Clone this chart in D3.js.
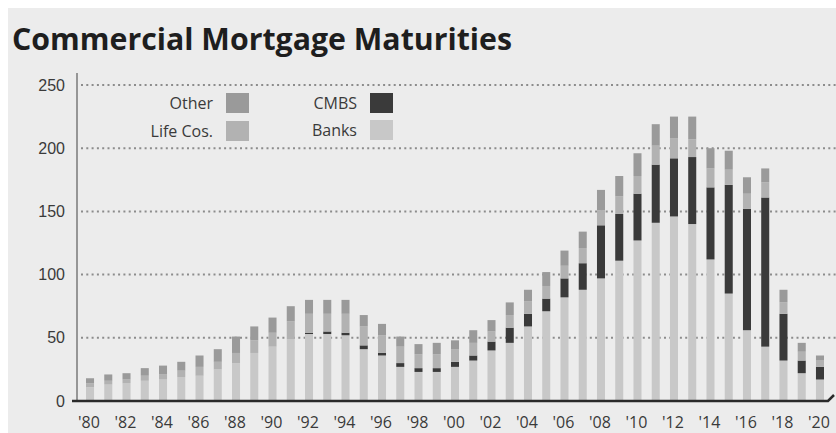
<!DOCTYPE html>
<html>
<head>
<meta charset="utf-8">
<script src="https://cdn.jsdelivr.net/npm/d3@7"></script>
<style>
  body { margin: 0; background: #fff; }
  svg { display: block; font-family: 'Open Sans', sans-serif; }
  .tick-label { fill: #3a3a3a; font-size: 16px; }
</style>
</head>
<body>
<svg id="chart"></svg>
<script>
/* global d3, document */

const years = d3.range(1980, 2021);
const banks = [11, 13, 14, 16, 17, 19, 20, 25, 30, 38, 43, 49, 53, 53, 52, 41, 36, 27, 23, 23, 27,
  32, 40, 46, 59, 71, 82, 88, 97, 111, 127, 141, 146, 140, 112, 85, 56, 43, 32, 22, 17];
const cmbs = [0, 0, 0, 0, 0, 0, 0, 0, 0, 0, 0, 0, 1, 2, 2, 3, 2, 3, 3, 3, 4,
  4, 7, 12, 10, 10, 15, 21, 42, 37, 37, 46, 46, 53, 57, 86, 96, 118, 37, 10, 10];
const lifeCos = [3, 3, 3, 4, 4, 5, 7, 6, 8, 10, 11, 14, 15, 14, 15, 15, 14, 13, 11, 11, 10,
  10, 8, 10, 10, 10, 10, 12, 12, 14, 14, 15, 16, 14, 15, 12, 12, 12, 9, 7, 5];
const other = [4, 5, 5, 6, 7, 7, 9, 10, 13, 11, 12, 12, 11, 11, 11, 9, 9, 8, 8, 9, 7,
  10, 9, 10, 9, 11, 12, 13, 16, 16, 18, 17, 17, 18, 16, 15, 13, 11, 10, 7, 4];
const yTicks = [0, 50, 100, 150, 200, 250];

const keys = ['banks', 'cmbs', 'life', 'other'];
const colors = { banks: '#c8c8c8', cmbs: '#3a3a3a', life: '#b2b2b2', other: '#9a9a9a' };
const legendItems = [
  { key: 'other', label: 'Other', x: 213, y: 93 },
  { key: 'life', label: 'Life Cos.', x: 213, y: 121 },
  { key: 'cmbs', label: 'CMBS', x: 357, y: 93 },
  { key: 'banks', label: 'Banks', x: 357, y: 120 },
];

const width = 836;
const height = 433;

const data = years.map((year, i) => ({
  year,
  banks: banks[i],
  cmbs: cmbs[i],
  life: lifeCos[i],
  other: other[i],
}));

const svg = d3.select('#chart')
  .attr('width', width)
  .attr('height', height);

// grey panel, with a thin white margin top and left
svg.append('rect')
  .attr('x', 8)
  .attr('y', 8)
  .attr('width', width - 8)
  .attr('height', height - 8)
  .attr('fill', '#ececec');

svg.append('text')
  .attr('x', 12)
  .attr('y', 50)
  .attr('font-size', '31px')
  .attr('font-weight', 700)
  .attr('fill', '#1e1e1e')
  .attr('textLength', 500)
  .attr('lengthAdjust', 'spacingAndGlyphs')
  .text('Commercial Mortgage Maturities');

const x = d3.scaleBand()
  .domain(years)
  .range([80.9, 829.1])
  .paddingInner(0.56)
  .paddingOuter(0.28);

const y = d3.scaleLinear()
  .domain([0, 250])
  .range([401, 85]);

// dotted grid lines
svg.append('g')
  .selectAll('line')
  .data(yTicks.filter(d => d > 0))
  .enter()
    .append('line')
      .attr('x1', 81)
      .attr('x2', width)
      .attr('y1', d => y(d))
      .attr('y2', d => y(d))
      .attr('stroke', '#8c8c8c')
      .attr('stroke-width', 2)
      .attr('stroke-dasharray', '2,3.3');

// y axis
const yAxis = svg.append('g')
  .attr('transform', 'translate(77,0)')
  .call(d3.axisLeft(y).tickValues(yTicks).tickSize(0).tickPadding(12));
yAxis.select('.domain')
  .attr('stroke', '#7a7a7a')
  .attr('stroke-width', 1.5)
  .attr('d', `M0,${y(250) - 12}V${y(0)}`);
yAxis.selectAll('text')
  .attr('class', 'tick-label')
  .attr('font-family', null)
  .attr('font-size', null)
  .attr('fill', null);

// stacked bars
const series = d3.stack().keys(keys)(data);

svg.append('g')
  .selectAll('g')
  .data(series)
  .enter()
    .append('g')
      .attr('fill', d => colors[d.key])
      .selectAll('rect')
      .data(d => d.filter(s => s[1] > s[0]))
      .enter()
        .append('rect')
          .attr('x', d => x(d.data.year))
          .attr('width', x.bandwidth())
          .attr('y', d => y(d[1]))
          .attr('height', d => y(d[0]) - y(d[1]));

// baseline with the little slash at its end
svg.append('path')
  .attr('d', `M72,${y(0)}H828L834,${y(0) - 6}`)
  .attr('fill', 'none')
  .attr('stroke', '#2a2a2a')
  .attr('stroke-width', 2.5);

// x axis labels every other year
svg.append('g')
  .selectAll('text')
  .data(years.filter(d => d % 2 === 0))
  .enter()
    .append('text')
      .attr('class', 'tick-label')
      .attr('x', d => x(d) + x.bandwidth() / 2 - 1)
      .attr('y', 428)
      .attr('text-anchor', 'middle')
      .text(d => `'${String(d).slice(2)}`);

// legend
const legend = svg.append('g')
  .selectAll('g')
  .data(legendItems)
  .enter()
    .append('g');

legend.append('text')
  .attr('class', 'tick-label')
  .attr('x', d => d.x)
  .attr('y', d => d.y + 16)
  .attr('text-anchor', 'end')
  .text(d => d.label);

legend.append('rect')
  .attr('x', d => d.x + 13)
  .attr('y', d => d.y)
  .attr('width', 23)
  .attr('height', 20)
  .attr('fill', d => colors[d.key]);
</script>
</body>
</html>
